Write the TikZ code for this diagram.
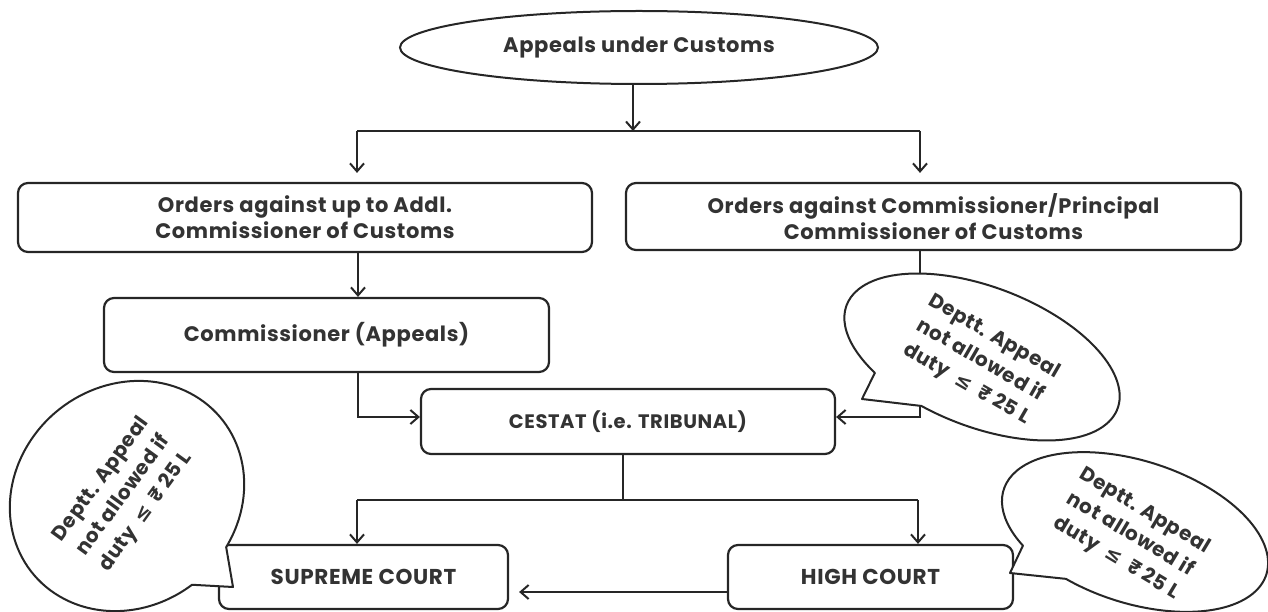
\documentclass[tikz,border=0pt]{standalone}
\usepackage{fontspec}
\setmainfont{Poppins}[LetterSpace=3]
\newfontfamily\symf{DejaVu Sans}
\usetikzlibrary{arrows.meta,shapes.geometric}
\definecolor{linec}{HTML}{262626}
\definecolor{textc}{HTML}{333333}
\newcommand\bxf{\fontsize{21}{26}\selectfont\bfseries}
\newcommand\capf{\fontsize{19.5}{22}\selectfont\bfseries}
\newcommand\crtf{\fontsize{21.5}{24}\selectfont\bfseries}
\newcommand\clf{\fontsize{20}{27.5}\selectfont\bfseries}
\begin{document}
\begin{tikzpicture}[x=1pt,y=1pt,
  box/.style={draw=linec, rounded corners=10pt, line width=2.2pt, align=center, text=textc, inner sep=0pt, font=\bxf},
  capbox/.style={box, font=\capf},
  courtbox/.style={box, font=\crtf},
  conn/.style={draw=linec, line width=2pt},
  arr/.style={conn, -{Straight Barb[length=8pt,width=14pt,line width=2pt]}},
  callout/.style={draw=linec, fill=white, line width=2pt, line join=round},
  ctext/.style={text=textc, align=center, font=\clf, inner sep=0pt}]
\useasboundingbox (0,0) rectangle (1268,-612);
% nodes
\node[ellipse, draw=linec, line width=2pt, minimum width=478pt, minimum height=73pt, inner sep=0pt, text=textc, font=\bxf] (top) at (639,-47.5) {Appeals under Customs};
\node[box, minimum width=574pt, minimum height=69pt] (b1) at (305,-217.5) {Orders against up to Addl.\\Commissioner of Customs};
\node[box, minimum width=615pt, minimum height=67pt] (b2) at (933.5,-216.5) {Orders against Commissioner/Principal\\Commissioner of Customs};
\node[box, minimum width=445pt, minimum height=74pt] (b3) at (326.5,-335) {Commissioner (Appeals)};
\node[capbox, minimum width=414pt, minimum height=65pt] (ces) at (628,-421.5) {CESTAT (i.e. TRIBUNAL)};
\node[courtbox, minimum width=289pt, minimum height=64pt] (sc) at (363.5,-577) {SUPREME COURT};
\node[courtbox, minimum width=285pt, minimum height=64pt] (hc) at (870.5,-577) {HIGH COURT};
% connectors
\coordinate (j0) at (633,-131);
\coordinate (jl) at (357,-131);
\coordinate (jr) at (920,-131);
\draw[arr] (top.south -| j0) -- (j0);
\draw[conn] (jl) -- (jr);
\draw[arr, shorten >=9pt] (jl) -- (jl |- b1.north);
\draw[arr, shorten >=9pt] (jr) -- (jr |- b2.north);
\coordinate (cL) at (358,-417);
\draw[arr] (cL |- b1.south) -- (cL |- b3.north);
\draw[arr] (cL |- b3.south) -- (cL) -- (ces.west |- cL);
\coordinate (cR) at (920,-417);
\draw[arr] (cR |- b2.south) -- (cR) -- (ces.east |- cR);
\coordinate (cB) at (623,-500);
\coordinate (dL) at (357,-500);
\coordinate (dR) at (918,-500);
\draw[conn] (ces.south -| cB) -- (cB);
\draw[conn] (dL) -- (dR);
\draw[arr] (dL) -- (dL |- sc.north);
\draw[arr] (dR) -- (dR |- hc.north);
\coordinate (eY) at (0,-592);
\draw[arr, shorten >=10pt] (hc.west |- eY) -- (sc.east |- eY);
% callouts
\coordinate (t1) at (862,-399);
\begin{scope}[shift={(982,-357)}, rotate=-21]
  \draw[callout] (254.4:145pt and 70pt) arc[start angle=254.4, end angle=589.4, x radius=145pt, y radius=70pt] -- (t1) -- cycle;
\end{scope}
\node[ctext, rotate=-30] (c1t) at (980,-361) {Deptt. Appeal\\not allowed if\\duty\ \ {\symf\bfseries ≤}\ \ ₹ 25 L};
\coordinate (t2) at (233,-587);
\begin{scope}[shift={(127,-496)}, rotate=40]
  \draw[callout] (290.7:122pt and 110pt) arc[start angle=290.7, end angle=626.6, x radius=122pt, y radius=110pt] -- (t2) -- cycle;
\end{scope}
\node[ctext, rotate=54] (c2t) at (124,-496) {Deptt. Appeal\\not allowed if\\duty\ \ {\symf\bfseries ≤}\ \ ₹ 25 L};
\coordinate (t3) at (1010,-573);
\begin{scope}[shift={(1135,-532)}, rotate=-18]
  \draw[callout] (248.2:138pt and 71pt) arc[start angle=248.2, end angle=582.1, x radius=138pt, y radius=71pt] -- (t3) -- cycle;
\end{scope}
\node[ctext, rotate=-31] (c3t) at (1130,-535) {Deptt. Appeal\\not allowed if\\duty\ \ {\symf\bfseries ≤}\ \ ₹ 25 L};
\end{tikzpicture}
\end{document}
